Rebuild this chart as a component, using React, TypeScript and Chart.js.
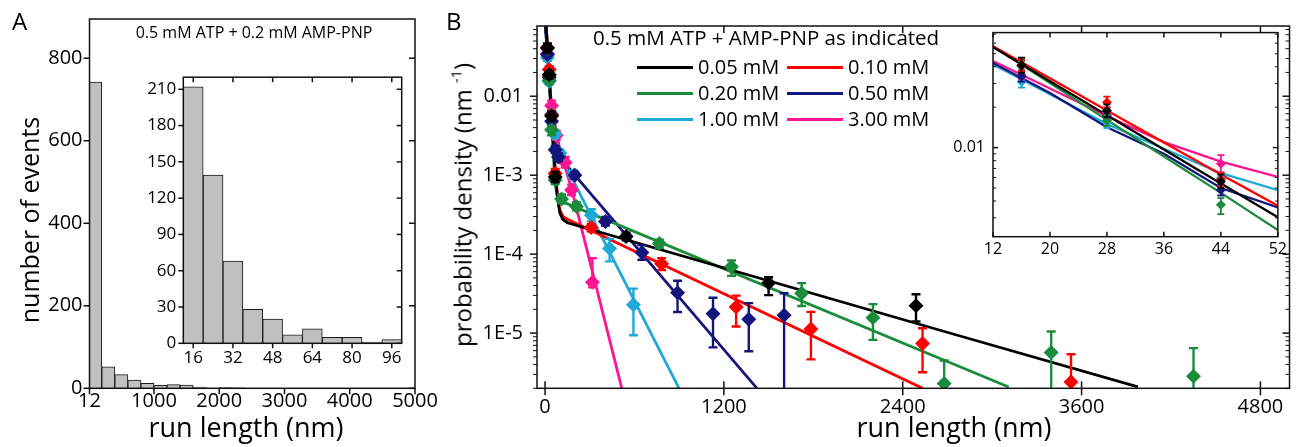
import React, { useEffect, useRef } from 'react';
import { Chart, registerables } from 'chart.js';

Chart.register(...registerables);

const FONT = "'Open Sans', 'DejaVu Sans', sans-serif";

// ---------------- Panel A data ----------------
const histBinCenters = [100, 300, 500, 700, 900, 1100, 1300, 1500, 1700, 1900, 2100, 2300];
const histCounts = [742, 52, 33, 20, 12, 7, 9, 8, 3, 0, 2, 1];
const histXTicks = [12, 1000, 2000, 3000, 4000, 5000];
const histYTicks = [0, 200, 400, 600, 800];

const insetBinCenters = [16, 24, 32, 40, 48, 56, 64, 72, 80, 88, 96];
const insetCounts = [212, 139, 68, 28, 20, 7, 12, 5, 5, 1, 3];
const insetXTicks = [16, 32, 48, 64, 80, 96];
const insetYTicks = [0, 30, 60, 90, 120, 150, 180, 210];

// ---------------- Panel B data ----------------
const densXTicks = [0, 1200, 2400, 3600, 4800];
const densYTicks = [1e-5, 1e-4, 1e-3, 1e-2];
const densYLabels = ['1E-5', '1E-4', '1E-3', '0.01'];
const zoomXTicks = [12, 20, 28, 36, 44, 52];
const zoomYTicks = [0.01];
const zoomYLabels = ['0.01'];

const concLabels = ['0.05 mM', '0.10 mM', '0.20 mM', '0.50 mM', '1.00 mM', '3.00 mM'];
const concColors = ['#000000', '#ff0000', '#1a8c3c', '#14147d', '#1fa9d6', '#ff1493'];

// 0.05 mM
const pts005X = [16, 28, 44, 68, 544, 1500, 2489];
const pts005Y = [0.041, 0.0188, 0.0056, 9.5e-4, 1.67e-4, 4.3e-5, 2.22e-5];
const pts005Lo = [0.036, 0.0168, 0.005, 8.2e-4, 1.5e-4, 3.03e-5, 1.4e-5];
const pts005Hi = [0.0467, 0.021, 0.0063, 1.1e-3, 1.87e-4, 5.1e-5, 3.1e-5];
const fit005X = [0, 12, 20, 28, 36, 44, 52, 60, 70, 80, 90, 100, 120, 150, 2767, 3978];
const fit005Y = [0.134, 0.0559, 0.0312, 0.0174, 0.0097, 0.0054, 0.00303, 0.0018, 0.001, 6e-4, 4.2e-4, 3.3e-4, 2.75e-4, 2.5e-4, 9.4e-6, 2.09e-6];

// 0.10 mM
const pts010X = [16, 28, 44, 68, 309, 782, 1282, 1784, 2533, 3529];
const pts010Y = [0.041, 0.0218, 0.0058, 1.05e-3, 2.17e-4, 7.55e-5, 2.14e-5, 1.13e-5, 7.4e-6, 2.4e-6];
const pts010Lo = [0.037, 0.0198, 0.0052, 9.2e-4, 1.95e-4, 6.3e-5, 1.21e-5, 4.65e-6, 3.2e-6, 1e-7];
const pts010Hi = [0.045, 0.024, 0.0065, 1.2e-3, 2.4e-4, 8.9e-5, 2.98e-5, 1.86e-5, 1.15e-5, 5.4e-6];
const fit010X = [0, 12, 20, 28, 36, 44, 52, 60, 70, 80, 90, 100, 120, 150, 2533];
const fit010Y = [0.129, 0.0569, 0.0328, 0.0189, 0.0109, 0.0063, 0.00369, 0.0021, 0.0011, 6.5e-4, 4.5e-4, 3.6e-4, 3.0e-4, 2.77e-4, 2.0e-6];

// 0.20 mM
const pts020X = [16, 28, 44, 68, 111, 211, 767, 1251, 1722, 2200, 2678, 3396, 4351];
const pts020Y = [0.0403, 0.0159, 0.00375, 8.7e-4, 5.0e-4, 4.0e-4, 1.36e-4, 6.9e-5, 3.2e-5, 1.57e-5, 2.3e-6, 5.7e-6, 2.85e-6];
const pts020Lo = [0.037, 0.0145, 0.0032, 7.7e-4, 4.4e-4, 3.6e-4, 1.2e-4, 5.3e-5, 2.2e-5, 8.2e-6, 1e-7, 1e-7, 1e-7];
const pts020Hi = [0.044, 0.0175, 0.0042, 9.8e-4, 5.7e-4, 4.5e-4, 1.52e-4, 8.3e-5, 4.3e-5, 2.33e-5, 4.5e-6, 1.05e-5, 6.45e-6];
const fit020X = [0, 12, 20, 28, 36, 44, 52, 60, 70, 80, 95, 3111];
const fit020Y = [0.146, 0.0569, 0.0303, 0.0161, 0.0086, 0.0046, 0.00243, 0.0013, 7.5e-4, 5.6e-4, 4.8e-4, 2.08e-6];

// 0.50 mM
const pts050X = [16, 28, 44, 68, 90, 200, 405, 650, 889, 1127, 1367, 1604];
const pts050Y = [0.0338, 0.0173, 0.00483, 2.1e-3, 1.7e-3, 1.0e-3, 2.6e-4, 1.05e-4, 3.24e-5, 1.76e-5, 1.5e-5, 1.68e-5];
const pts050Lo = [0.031, 0.016, 0.0044, 1.9e-3, 1.5e-3, 9e-4, 2.3e-4, 8.5e-5, 1.85e-5, 6.6e-6, 5.9e-6, 1e-7];
const pts050Hi = [0.037, 0.019, 0.0053, 2.35e-3, 1.9e-3, 1.1e-3, 2.95e-4, 1.3e-4, 4.6e-5, 2.8e-5, 2.4e-5, 3.2e-5];
const fit050X = [0, 12, 20, 28, 36, 44, 52, 60, 70, 80, 100, 200, 1422];
const fit050Y = [0.097, 0.0427, 0.0255, 0.0142, 0.009, 0.005, 0.00359, 0.0028, 0.0023, 0.002, 1.7e-3, 1.0e-3, 2.0e-6];

// 1.00 mM
const pts100X = [16, 28, 44, 68, 100, 190, 311, 433, 593];
const pts100Y = [0.031, 0.0154, 0.00594, 3.3e-3, 1.9e-3, 1.0e-3, 3.1e-4, 1.18e-4, 2.29e-5];
const pts100Lo = [0.028, 0.014, 0.0054, 3.0e-3, 1.7e-3, 9e-4, 2.6e-4, 8.1e-5, 9.4e-6];
const pts100Hi = [0.034, 0.017, 0.0065, 3.7e-3, 2.1e-3, 1.15e-3, 3.7e-4, 1.56e-4, 3.66e-5];
const fit100X = [0, 12, 20, 28, 36, 44, 52, 60, 70, 80, 100, 150, 311, 899];
const fit100Y = [0.0897, 0.0417, 0.025, 0.015, 0.0098, 0.00646, 0.00483, 0.0037, 0.00287, 0.0024, 0.00187, 0.00119, 3.0e-4, 2.0e-6];

// 3.00 mM
const pts300X = [16, 28, 44, 75, 135, 178, 318];
const pts300Y = [0.0347, 0.0182, 0.00757, 3.2e-3, 1.45e-3, 6.5e-4, 4.4e-5];
const pts300Lo = [0.032, 0.0165, 0.0065, 2.8e-3, 1.25e-3, 5.6e-4, 3.8e-5];
const pts300Hi = [0.038, 0.02, 0.0088, 3.6e-3, 1.7e-3, 7.6e-4, 8.9e-5];
const fit300X = [0, 12, 20, 28, 36, 44, 52, 60, 70, 80, 100, 178, 515];
const fit300Y = [0.0895, 0.0442, 0.0276, 0.0172, 0.011, 0.00787, 0.00604, 0.0051, 0.0041, 0.0033, 0.0021, 6.7e-4, 2.0e-6];

const seriesTable = [
  { px: pts005X, py: pts005Y, lo: pts005Lo, hi: pts005Hi, fx: fit005X, fy: fit005Y },
  { px: pts010X, py: pts010Y, lo: pts010Lo, hi: pts010Hi, fx: fit010X, fy: fit010Y },
  { px: pts020X, py: pts020Y, lo: pts020Lo, hi: pts020Hi, fx: fit020X, fy: fit020Y },
  { px: pts050X, py: pts050Y, lo: pts050Lo, hi: pts050Hi, fx: fit050X, fy: fit050Y },
  { px: pts100X, py: pts100Y, lo: pts100Lo, hi: pts100Hi, fx: fit100X, fy: fit100Y },
  { px: pts300X, py: pts300Y, lo: pts300Lo, hi: pts300Hi, fx: fit300X, fy: fit300Y },
];

// ---------------- plugins ----------------
const framePlugin: any = {
  id: 'frame',
  beforeDraw(chart: any, _a: any, o: any) {
    if (!o || !o.fill) return;
    const { ctx, chartArea: ca } = chart;
    ctx.save();
    ctx.fillStyle = o.fill;
    ctx.fillRect(ca.left, ca.top, ca.right - ca.left, ca.bottom - ca.top);
    ctx.restore();
  },
  afterDraw(chart: any, _a: any, o: any) {
    const { ctx, chartArea: ca, scales } = chart;
    const xs = scales.x;
    const ys = scales.y;
    ctx.save();
    ctx.strokeStyle = o.color || '#111';
    const seg = (x1: number, y1: number, x2: number, y2: number) => {
      ctx.beginPath();
      ctx.moveTo(x1, y1);
      ctx.lineTo(x2, y2);
      ctx.stroke();
    };
    const logMinor = (sc: any) => {
      const out: number[] = [];
      if (sc.type !== 'logarithmic') return out;
      const e0 = Math.floor(Math.log10(sc.min)) - 1;
      const e1 = Math.ceil(Math.log10(sc.max)) + 1;
      for (let e = e0; e <= e1; e++) {
        for (let k = 2; k <= 9; k++) {
          const v = k * Math.pow(10, e);
          if (v >= sc.min && v <= sc.max) out.push(v);
        }
      }
      return out;
    };
    const xT = xs.ticks.map((t: any) => t.value);
    const yT = ys.ticks.map((t: any) => t.value);
    const yMinor = logMinor(ys);
    const drawSide = (side: string, mode: string, vals: number[], len: number) => {
      if (!mode || mode === 'none') return;
      vals.forEach((v) => {
        if (side === 'bottom' || side === 'top') {
          const p = xs.getPixelForValue(v);
          if (p < ca.left - 0.5 || p > ca.right + 0.5) return;
          const y0 = side === 'bottom' ? ca.bottom : ca.top;
          const dIn = side === 'bottom' ? -1 : 1;
          if (mode === 'in') seg(p, y0, p, y0 + dIn * len);
          else if (mode === 'out') seg(p, y0, p, y0 - dIn * len);
          else seg(p, y0 - len, p, y0 + len);
        } else {
          const p = ys.getPixelForValue(v);
          if (p < ca.top - 0.5 || p > ca.bottom + 0.5) return;
          const x0 = side === 'left' ? ca.left : ca.right;
          const dIn = side === 'left' ? 1 : -1;
          if (mode === 'in') seg(x0, p, x0 + dIn * len, p);
          else if (mode === 'out') seg(x0, p, x0 - dIn * len, p);
          else seg(x0 - len, p, x0 + len, p);
        }
      });
    };
    ctx.lineWidth = o.lw || 1.5;
    drawSide('bottom', o.bottom, xT, o.major);
    drawSide('top', o.top, xT, o.major);
    drawSide('left', o.left, yT, o.major);
    drawSide('right', o.right, yT, o.major);
    ctx.lineWidth = o.minorLw || 1;
    drawSide('left', o.left, yMinor, o.minor);
    drawSide('right', o.right, yMinor, o.minor);
    ctx.lineWidth = o.lw || 1.5;
    ctx.strokeRect(ca.left, ca.top, ca.right - ca.left, ca.bottom - ca.top);
    ctx.restore();
  },
};

const errPlugin: any = {
  id: 'errbars',
  beforeDatasetDraw(chart: any, args: any, o: any) {
    const ds = chart.data.datasets[args.index];
    if (!ds.errLo) return;
    const { ctx, chartArea: ca } = chart;
    const xs = chart.scales.x;
    const ys = chart.scales.y;
    ctx.save();
    ctx.beginPath();
    ctx.rect(ca.left, ca.top, ca.right - ca.left, ca.bottom - ca.top);
    ctx.clip();
    ctx.strokeStyle = ds.backgroundColor;
    ctx.lineWidth = o.lw;
    ds.data.forEach((p: any, i: number) => {
      const x = xs.getPixelForValue(p.x);
      const y1 = ys.getPixelForValue(ds.errLo[i]);
      const y2 = ys.getPixelForValue(ds.errHi[i]);
      ctx.beginPath();
      ctx.moveTo(x, y1);
      ctx.lineTo(x, y2);
      ctx.moveTo(x - o.cap, y1);
      ctx.lineTo(x + o.cap, y1);
      ctx.moveTo(x - o.cap, y2);
      ctx.lineTo(x + o.cap, y2);
      ctx.stroke();
    });
    ctx.restore();
  },
};

const setTicks = (vals: number[]) => (scale: any) => {
  scale.ticks = vals.map((v) => ({ value: v }));
};
const labelFrom = (vals: number[], labels: string[]) => (v: any) => {
  const i = vals.findIndex((t) => Math.abs(t - v) <= Math.abs(t) * 1e-6 + 1e-12);
  return i >= 0 ? labels[i] : '';
};

function densDatasets(inset: boolean) {
  const pts = seriesTable.map((s, k) => ({
    data: s.px.map((x, i) => ({ x, y: s.py[i] })),
    errLo: s.lo,
    errHi: s.hi,
    showLine: false,
    pointStyle: 'rectRot',
    pointRadius: inset ? 5 : 7.5,
    pointBorderWidth: 0,
    backgroundColor: concColors[k],
    borderColor: concColors[k],
  }));
  const lines = seriesTable.map((s, k) => ({
    data: s.fx.map((x, i) => ({ x, y: s.fy[i] })),
    showLine: true,
    pointRadius: 0,
    borderColor: concColors[k],
    backgroundColor: concColors[k],
    borderWidth: inset ? 2.3 : 2.8,
    tension: 0,
  }));
  return [...pts, ...lines];
}

const baseOpts = {
  responsive: false,
  animation: false,
  events: [],
};

function axis(extra: any) {
  return {
    grid: { display: false, drawTicks: false },
    border: { display: false },
    ...extra,
  };
}

export default function App() {
  const aMain = useRef<HTMLCanvasElement>(null);
  const aInset = useRef<HTMLCanvasElement>(null);
  const bMain = useRef<HTMLCanvasElement>(null);
  const bInset = useRef<HTMLCanvasElement>(null);

  useEffect(() => {
    Chart.defaults.font.family = FONT;
    Chart.defaults.color = '#000';
    const charts: Chart[] = [];

    charts.push(
      new Chart(aMain.current as HTMLCanvasElement, {
        type: 'bar',
        data: {
          datasets: [
            {
              data: histBinCenters.map((x, i) => ({ x, y: histCounts[i] })),
              backgroundColor: '#c0c0c0',
              borderColor: '#1a1a1a',
              borderWidth: 1,
              barPercentage: 1,
              categoryPercentage: 1,
            } as any,
          ],
        },
        options: {
          ...baseOpts,
          layout: { padding: { left: 29.5, top: 13.3, right: 35, bottom: 18.7 } },
          plugins: {
            legend: { display: false },
            tooltip: { enabled: false },
            frame: { lw: 1.5, major: 6, minor: 3, left: 'out', bottom: 'out', right: 'in', top: 'none' },
          } as any,
          scales: {
            x: axis({
              type: 'linear', min: 12, max: 5000, offset: false,
              ticks: { font: { size: 20 }, padding: 1, autoSkip: false, maxRotation: 0, callback: (v: any) => String(v) },
              afterBuildTicks: setTicks(histXTicks),
              afterFit: (s: any) => { s.height = 40; },
            }),
            y: axis({
              type: 'linear', min: 0, max: 895,
              ticks: { font: { size: 20 }, padding: 7, autoSkip: false, callback: (v: any) => String(v) },
              afterBuildTicks: setTicks(histYTicks),
              afterFit: (s: any) => { s.width = 60; },
            }),
          },
        } as any,
        plugins: [framePlugin],
      })
    );

    charts.push(
      new Chart(bMain.current as HTMLCanvasElement, {
        type: 'scatter',
        data: { datasets: densDatasets(false) as any },
        options: {
          ...baseOpts,
          layout: { padding: { left: 27, top: 13, right: 5, bottom: 18.7 } },
          plugins: {
            legend: { display: false },
            tooltip: { enabled: false },
            frame: { lw: 1.5, major: 7, minor: 4, left: 'out', bottom: 'cross', right: 'in', top: 'in' },
            errbars: { lw: 2.4, cap: 4.5 },
          } as any,
          scales: {
            x: axis({
              type: 'linear', min: -54, max: 4995,
              ticks: { font: { size: 20 }, padding: 7, autoSkip: false, maxRotation: 0, callback: (v: any) => String(v) },
              afterBuildTicks: setTicks(densXTicks),
              afterFit: (s: any) => { s.height = 40; },
            }),
            y: axis({
              type: 'logarithmic', min: 2e-6, max: 0.0775,
              ticks: { font: { size: 20 }, padding: 14, autoSkip: false, callback: labelFrom(densYTicks, densYLabels) },
              afterBuildTicks: setTicks(densYTicks),
              afterFit: (s: any) => { s.width = 80; },
            }),
          },
        } as any,
        plugins: [framePlugin, errPlugin],
      })
    );

    charts.push(
      new Chart(aInset.current as HTMLCanvasElement, {
        type: 'bar',
        data: {
          datasets: [
            {
              data: insetBinCenters.map((x, i) => ({ x, y: insetCounts[i] })),
              backgroundColor: '#c0c0c0',
              borderColor: '#1a1a1a',
              borderWidth: 1,
              barPercentage: 1,
              categoryPercentage: 1,
            } as any,
          ],
        },
        options: {
          ...baseOpts,
          layout: { padding: { left: 13.3, top: 12.7, right: 8.3, bottom: 6.7 } },
          plugins: {
            legend: { display: false },
            tooltip: { enabled: false },
            frame: { lw: 1.5, major: 5, minor: 3, left: 'out', bottom: 'out', right: 'in', top: 'in', fill: '#ffffff' },
          } as any,
          scales: {
            x: axis({
              type: 'linear', min: 12, max: 100, offset: false,
              ticks: { font: { size: 17 }, padding: 5, autoSkip: false, maxRotation: 0, callback: (v: any) => String(v) },
              afterBuildTicks: setTicks(insetXTicks),
              afterFit: (s: any) => { s.height = 30; },
            }),
            y: axis({
              type: 'linear', min: 0, max: 220,
              ticks: { font: { size: 17 }, padding: 7, autoSkip: false, callback: (v: any) => String(v) },
              afterBuildTicks: setTicks(insetYTicks),
              afterFit: (s: any) => { s.width = 40; },
            }),
          },
        } as any,
        plugins: [framePlugin],
      })
    );

    charts.push(
      new Chart(bInset.current as HTMLCanvasElement, {
        type: 'scatter',
        data: { datasets: densDatasets(true) as any },
        options: {
          ...baseOpts,
          layout: { padding: { left: 8, top: 13.3, right: 10, bottom: 3.3 } },
          plugins: {
            legend: { display: false },
            tooltip: { enabled: false },
            frame: { lw: 1.5, major: 5, minor: 3, left: 'in', bottom: 'in', right: 'in', top: 'in', fill: '#ffffff' },
            errbars: { lw: 1.8, cap: 3.5 },
          } as any,
          scales: {
            x: axis({
              type: 'linear', min: 12, max: 52,
              ticks: { font: { size: 16 }, padding: 3, autoSkip: false, maxRotation: 0, callback: (v: any) => String(v) },
              afterBuildTicks: setTicks(zoomXTicks),
              afterFit: (s: any) => { s.height = 25; },
            }),
            y: axis({
              type: 'logarithmic', min: 0.00217, max: 0.0719,
              ticks: { font: { size: 16 }, padding: 8, autoSkip: false, callback: labelFrom(zoomYTicks, zoomYLabels) },
              afterBuildTicks: setTicks(zoomYTicks),
              afterFit: (s: any) => { s.width = 45; },
            }),
          },
        } as any,
        plugins: [framePlugin, errPlugin],
      })
    );

    return () => charts.forEach((c) => c.destroy());
  }, []);

  const txt = (left: number, top: number, size: number, content: any, extra: any = {}) => (
    <div
      style={{
        position: 'absolute', left, top, fontSize: size, lineHeight: 1, fontFamily: FONT,
        whiteSpace: 'nowrap', color: '#000', ...extra,
      }}
    >
      {content}
    </div>
  );

  const legendRowsY = [67.3, 93.3, 119];
  const legendColX = [637, 787];
  const legendSize = 20;

  return (
    <div style={{ position: 'fixed', left: 0, top: 0, width: 1297, height: 447, background: '#fff', overflow: 'hidden' }}>
      <canvas ref={aMain} width={450} height={447} style={{ position: 'absolute', left: 0, top: 0 }} />
      <canvas ref={bMain} width={867} height={447} style={{ position: 'absolute', left: 430, top: 0 }} />
      <canvas ref={aInset} width={280} height={320} style={{ position: 'absolute', left: 130, top: 60 }} />
      <canvas ref={bInset} width={350} height={250} style={{ position: 'absolute', left: 940, top: 15 }} />

      {txt(12, 8.7, 24, 'A')}
      {txt(446, 8.7, 24, 'B')}
      {txt(254, 23.5, 16, '0.5 mM ATP + 0.2 mM AMP-PNP', { transform: 'translateX(-50%)' })}
      {txt(593, 26.8, 20.5, '0.5 mM ATP + AMP-PNP as indicated')}
      {concLabels.map((lab, i) => {
        const col = i % 2;
        const row = Math.floor(i / 2);
        return (
          <React.Fragment key={lab}>
            <div style={{ position: 'absolute', left: legendColX[col], top: legendRowsY[row] - 1.5, width: 56, height: 3, background: concColors[i] }} />
            {txt(legendColX[col] + 61, legendRowsY[row] + 7.7 - 0.888 * legendSize, legendSize, lab)}
          </React.Fragment>
        );
      })}
      {txt(246, 412.7, 27, 'run length (nm)', { transform: 'translateX(-50%)' })}
      {txt(954, 412.7, 27, 'run length (nm)', { transform: 'translateX(-50%)' })}
      {txt(29, 219.5, 25, 'number of events', { transform: 'translate(-50%, -50%) rotate(-90deg)' })}
      {txt(462, 204.5, 24, <span>probability density (nm <span style={{ fontSize: '0.6em', verticalAlign: '0.7em' }}>-1</span>)</span>, { transform: 'translate(-50%, -50%) rotate(-90deg)' })}
    </div>
  );
}
